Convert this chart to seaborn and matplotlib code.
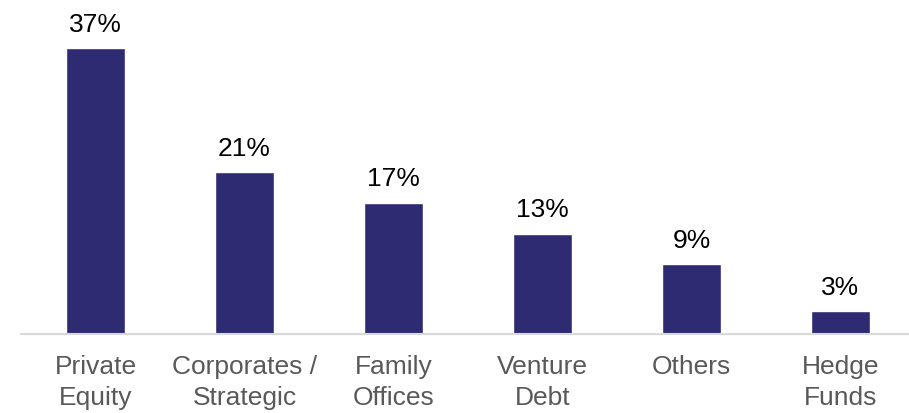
import matplotlib
matplotlib.use("Agg")
import matplotlib.pyplot as plt
import seaborn as sns
import pandas as pd

categories = ["Private\nEquity", "Corporates /\nStrategic", "Family\nOffices",
              "Venture\nDebt", "Others", "Hedge\nFunds"]
shares = [37, 21, 17, 13, 9, 3]

df = pd.DataFrame({"category": categories, "share": shares})

sns.set_style("white")
plt.rcParams["font.family"] = ["Liberation Sans", "DejaVu Sans"]

W, H = 909, 413
fig = plt.figure(figsize=(W / 100, H / 100), dpi=100)
left_px, base_px, slot_px = 21, 334, 149
ax = fig.add_axes([left_px / W, (H - base_px) / H, slot_px * 6 / W, base_px / H])

sns.barplot(data=df, x="category", y="share", color="#2E2B72", saturation=1,
            width=0.4, ax=ax)

ax.set_xlim(-0.5, 5.5)
ax.set_ylim(0, base_px / 7.73)
for c in ax.containers:
    ax.bar_label(c, labels=[f"{v}%" for v in shares], padding=8,
                 fontsize=19, color="#000000")

for s in ["top", "right", "left"]:
    ax.spines[s].set_visible(False)
ax.spines["bottom"].set_color("#D9D9D9")
ax.spines["bottom"].set_linewidth(1.5)
ax.set_yticks([])
ax.set_xlabel("")
ax.set_ylabel("")
ax.tick_params(axis="x", length=0, pad=15, labelsize=19, labelcolor="#595959")
for t in ax.get_xticklabels():
    t.set_linespacing(1.38)

fig.savefig("out.png", dpi=100)
